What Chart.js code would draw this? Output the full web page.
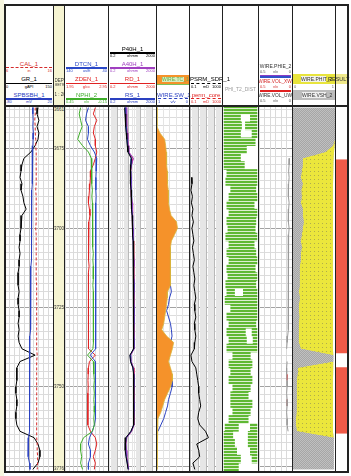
<!DOCTYPE html>
<html><head><meta charset="utf-8">
<script src="https://cdn.jsdelivr.net/npm/chart.js@4.4.1/dist/chart.umd.min.js"></script>
<style>
body{margin:0;width:351px;height:476px;position:relative;overflow:hidden;background:#fff;font-family:"Liberation Sans",Arial,sans-serif}
.a{position:absolute}
.lab{position:absolute;font-size:6px;line-height:6px;text-align:center;white-space:nowrap}
.sc{position:absolute;font-size:4px;line-height:4px;white-space:nowrap}
canvas{position:absolute}
</style></head><body>
<script>
// ================= DATA =================
const TOP = 3661.5, BASE = 3776.5;
const DEPTH_LABELS = [3661.5, 3675, 3700, 3725, 3750, 3776.5];
const DEPTH = [3662,3664,3666,3668,3670,3672,3674,3676,3678,3680,
 3682,3684,3686,3688,3690,3692,3694,3696,3698,3700,
 3702,3704,3706,3708,3710,3712,3714,3716,3718,3720,
 3722,3724,3726,3728,3730,3732,3734,3736,3738,3740,
 3742,3744,3746,3748,3750,3752,3754,3756,3758,3760,
 3762,3764,3766,3768,3770,3772,3774,3776];
const GR = [103,100,106,100,106,103,94,81,59,53,
 50,47,53,50,56,59,66,53,50,50,
 47,47,44,47,44,44,41,41,41,44,
 41,41,44,44,41,44,41,44,53,94,
 47,37,37,37,34,34,37,37,34,34,
 37,47,91,103,109,109,103,87];
const CAL = [12.3,12.3,12.2,12.3,12.3,12.4,12.4,12.5,12.5,12.5,
 12.5,12.5,12.5,12.4,12.5,12.5,12.5,12.5,12.5,12.4,
 12.5,12.5,12.5,12.5,12.5,12.5,12.5,12.5,12.6,12.6,
 12.6,12.6,12.6,12.6,12.6,12.6,12.6,12.6,12.6,12.7,
 12.6,12.6,12.6,12.6,12.6,12.6,12.6,12.6,12.6,12.6,
 12.6,12.6,12.6,12.7,12.7,12.8,12.8,12.7];
const SPBSBH = [-22,-22,-21.5,-22,-21,-21.5,-22,-22.5,-23,-23,
 -23,-23.5,-23.5,-24,-24,-24,-24,-24.5,-24.5,-25,
 -25,-25,-25.5,-25.5,-25.5,-26,-26,-26,-26,-26.5,
 -26.5,-27,-27,-27,-27.5,-27.5,-28,-28,-28,-28,
 -28,-28.5,-28.5,-28.5,-29,-29,-29,-29.5,-29.5,-30,
 -30,-30,-31,-32,-32,-31,-29,-28];
const DTCN = [85.5,90,92.3,85.5,85.5,87.7,80.9,71.8,66.1,67.3,
 67.5,68,68.4,68,67.5,68,68.5,69,68.4,68,
 68.5,69,69.5,69,68.5,69,69.5,69,68.4,68,
 68.5,69,69.5,69,68.5,68,68.5,69,69.5,80.9,
 69.5,68.4,68.4,69,69.5,69,68.4,69,69.5,70,
 71.8,76.4,83.2,85.5,80.9,80.9,85.5,85.5];
const ZDEN = [2.655,2.609,2.689,2.632,2.609,2.655,2.655,2.689,2.655,2.609,
 2.541,2.541,2.53,2.518,2.507,2.495,2.518,2.53,2.507,2.495,
 2.5,2.49,2.505,2.495,2.5,2.51,2.495,2.49,2.5,2.505,
 2.495,2.49,2.5,2.495,2.49,2.5,2.495,2.49,2.5,2.655,
 2.518,2.495,2.49,2.484,2.49,2.484,2.48,2.484,2.478,2.484,
 2.48,2.541,2.655,2.689,2.655,2.609,2.655,2.632];
const NPHI = [0.232,0.252,0.232,0.211,0.245,0.273,0.205,0.123,0.082,0.075,
 0.082,0.075,0.075,0.068,0.075,0.068,0.068,0.068,0.061,0.068,
 0.061,0.061,0.061,0.055,0.061,0.055,0.055,0.055,0.061,0.055,
 0.055,0.048,0.055,0.055,0.048,0.055,0.055,0.055,0.061,0.136,
 0.055,0.048,0.048,0.041,0.048,0.041,0.048,0.041,0.041,0.048,
 0.041,0.068,0.191,0.232,0.232,0.218,0.232,0.205];
const RD = [5.2,5.7,6.3,6.3,7.0,7.7,8.4,9.3,22,16.5,
 13.6,15,15,16.5,16.5,18.2,18.2,20,20,22,
 22,24,24,24,26.7,26.7,25,26.7,28,26.7,
 25,26.7,28,26.7,26.7,25,26.7,28,26.7,13.6,
 15,24,26.7,28,26.7,25,26.7,28,26.7,25,
 26.7,16.5,6.3,5.2,5.7,6.3,7.7,9.3];
const A40H = [5.6,6.0,6.6,6.8,7.3,8.0,8.8,9.8,24,17,
 14,15.5,15.5,17,17,18.5,19,20.5,21,22.5,
 23,24.5,25,25,27,27,25.5,27,28.5,27,
 25.5,27,28.5,27,27,25.5,27,28.5,27,14,
 15.5,24.5,27,28.5,27,25.5,27,28.5,27,25.5,
 27,17,6.6,5.5,6.0,6.6,8.0,9.6];
const RS = [4.6,4.9,5.5,5.6,6.2,6.9,7.6,8.6,17,15,
 13,14,14.5,15.5,16,17,17.5,19,19.5,21,
 21.5,23,23,23.5,25,25.5,24,25.5,27,25.5,
 24,25.5,27,25.5,25.5,24,25.5,27,25.5,12.5,
 14,22,25.5,27,25.5,24,25.5,27,25.5,24,
 25.5,15,5.8,4.8,5.2,5.9,7.2,8.8];
const P40H = [4.3,4.6,5.2,5.3,5.8,6.5,7.2,8.2,16,14.5,
 12.5,13.5,14,15,15.5,16.5,17,18.5,19,20.5,
 21,22.5,22.5,23,24.5,25,23.5,25,26.5,25,
 23.5,25,26.5,25,25,23.5,25,26.5,25,12,
 13.5,21.5,25,26.5,25,23.5,25,26.5,25,23.5,
 25,14.5,5.5,4.6,5.0,5.6,7.0,8.5];
const WIRE_TC = [0,0,0,0,0.09,0.24,0.27,0.29,0.30,0.30,
 0.32,0.33,0.33,0.35,0.36,0.36,0.39,0.44,0.61,0.64,
 0.55,0.45,0.42,0.42,0.42,0.42,0.42,0.42,0.42,0.33,
 0.32,0.30,0.27,0.24,0.21,0.15,0.30,0.52,0.48,0.42,
 0.36,0.42,0.48,0.48,0.42,0.33,0.24,0.18,0.12,0.03,
 0,0,0,0,0,0,0,0];
const WIRE_SW = [null,null,null,null,null,null,null,null,null,0.94,
 0.70,0.91,0.82,0.92,0.88,0.95,0.97,0.88,0.76,0.70,
 0.67,0.64,0.62,0.58,0.61,0.64,0.58,0.64,0.58,0.55,
 0.61,0.64,0.70,0.64,0.58,0.55,0.53,0.58,0.76,0.94,
 0.94,0.79,0.58,0.53,0.53,0.58,0.64,0.67,0.73,0.79,
 0.88,0.97,null,null,null,null,null,null];
const PSRM_SDR = [null,null,null,null,null,null,null,null,null,null,
 null,0.152,0.175,0.132,0.20,0.152,0.23,0.175,0.266,0.175,
 0.23,0.305,0.20,0.266,0.35,0.23,0.305,0.40,0.305,0.40,
 0.53,0.35,0.40,0.53,0.35,0.40,0.53,0.40,0.35,0.132,
 0.175,0.53,0.70,0.93,1.23,1.23,1.63,2.15,1.23,0.93,
 1.63,8.7,20,0.70,1.23,1.63,0.23,0.40];
const VOL_UWAT = [null,null,null,null,null,null,null,null,0.037,0.044,
 0.051,0.044,0.051,0.059,0.051,0.044,0.051,0.059,0.051,0.044,
 0.051,0.059,0.051,0.051,0.059,0.051,0.059,0.051,0.059,0.051,
 0.059,0.059,0.051,0.059,0.051,0.059,0.066,0.074,0.081,null,
 0.074,0.081,0.081,0.074,0.074,0.081,0.074,0.074,0.081,0.074,
 0.074,0.059,null,null,null,null,null,null];
const VOL_XWAT = [null,null,null,null,null,null,null,null,null,null,
 null,null,null,null,null,null,null,null,null,null,
 null,null,null,null,null,null,null,null,null,null,
 null,null,null,null,null,null,null,null,null,null,
 null,null,0.074,0.074,null,null,0.074,0.074,null,null,
 null,null,null,null,null,null,null,null];
const VSH = [1,1,1,1,1,1,0.95,0.77,0.233,0.233,
 0.209,0.186,0.233,0.198,0.209,0.186,0.233,0.233,0.256,0.233,
 0.209,0.186,0.209,0.186,0.186,0.163,0.163,0.151,0.163,0.14,
 0.163,0.14,0.14,0.151,0.14,0.128,0.14,0.14,0.186,0.96,
 0.96,0.116,0.105,0.093,0.093,0.081,0.081,0.093,0.081,0.07,
 0.07,0.093,0.97,0.97,0.97,0.97,0.97,0.97];
const SAND_EDGE = [1,1,1,1,1,1,0.99,0.977,0.965,0.953,
 0.953,0.953,0.953,0.95,0.95,0.953,0.953,0.95,0.953,0.953,
 0.95,0.95,0.953,0.953,0.95,0.95,0.953,0.953,0.95,0.95,
 0.953,0.953,0.95,0.95,0.953,0.953,0.95,0.95,0.95,0.96,
 0.96,0.953,0.953,0.95,0.95,0.953,0.953,0.95,0.95,0.953,
 0.953,0.95,0.97,0.97,0.97,0.97,0.97,0.97];
const RESULT_TOP = [3678.3, 3743.8];
const RESULT_BASE = [3739.4, 3764.8];
// PHI_T2_DIST envelope (two segments per row)
const T2_DEPTH = [3662.75,3665.25,3667.75,3670.25,3672.75,3675.25,3677.75,3680.25,3682.75,3685.25,
 3687.75,3690.25,3692.75,3695.25,3697.75,3700.25,3702.75,3705.25,3707.75,3710.25,
 3712.75,3715.25,3717.75,3720.25,3722.75,3725.25,3727.75,3730.25,3732.75,3735.25,
 3737.75,3740.25,3742.75,3745.25,3747.75,3750.25,3752.75,3755.25,3757.75,3760.25,
 3762.75,3765.25,3767.75,3770.25,3772.75,3775.25];
const T2_A_LO = [3,3,3,3,3,3,3,3,11,8, 22,17,11,17,11,14,8,17,11,17, 11,14,8,11,6,22,11,17,11,17, 11,28,17,22,17,28,22,22,28,17, 6,3,3,3,3,3];
const T2_A_HI = [97,50,53,50,92,67,50,61,97,97, 94,97,89,97,94,92,97,89,94,97, 92,97,94,33,97,97,97,94,64,67, 97,78,83,78,83,78,72,83,78,72, 44,28,33,39,50,44];
const T2_B_LO = [null,78,64,83,null,null,null,null,null,null, null,null,null,null,null,null,null,null,null,null, null,null,null,58,null,null,null,null,83,86, null,null,null,null,null,null,null,null,null,null, 78,72,72,78,83,null];
const T2_B_HI = [null,97,97,97,null,null,null,null,null,null, null,null,null,null,null,null,null,null,null,null, null,null,null,97,null,null,null,null,97,97, null,null,null,null,null,null,null,null,null,null, 97,97,97,97,97,null];

// ================= LAYOUT =================
const PT = 106, PB = 471;
const B = [4,53,64,108,156,189,222,258,292,335,347];

function el(cls, css, text){const d=document.createElement('div');d.className=cls;d.style.cssText=css;if(text!=null)d.textContent=text;document.body.appendChild(d);return d;}
function rect(x,y,w,h,bg){return el('a',`left:${x}px;top:${y}px;width:${w}px;height:${h}px;background:${bg}`);}
function pat(w,h,draw){const c=document.createElement('canvas');c.width=w;c.height=h;const g=c.getContext('2d');draw(g);return g.createPattern(c,'repeat');}
const GREEN = pat(1,3,g=>{g.fillStyle='#5fb833';g.fillRect(0,0,1,2);g.fillStyle='#dbeecf';g.fillRect(0,2,1,1);});
const SAND = pat(4,4,g=>{g.fillStyle='#ebe63c';g.fillRect(0,0,4,4);g.fillStyle='#b0ad4a';g.fillRect(1,1,1,1);});
const SHALE = pat(2,2,g=>{g.fillStyle='#c0c0c0';g.fillRect(0,0,2,2);g.fillStyle='#a6a6a6';g.fillRect(0,0,1,1);g.fillRect(1,1,1,1);});

const lin = (a,b,n)=>Array.from({length:n+1},(_,i)=>a+(b-a)*i/n);
const logTicks=(a,b)=>{const t=[];for(let e=Math.floor(Math.log10(a));e<=Math.ceil(Math.log10(b));e++)for(let m=1;m<10;m++){const v=Number((m*Math.pow(10,e)).toPrecision(6));if(v>=a*0.999&&v<=b*1.001)t.push(v);}return t;};
const isDec=v=>Math.abs(Math.log10(v)-Math.round(Math.log10(v)))<1e-6;
const GRID_D=[];for(let d=3662.5; d<BASE; d+=2.5) GRID_D.push(d);

function Y(grid, extra){
  return Object.assign({type:'linear',reverse:true,min:TOP,max:BASE,display:true,offset:false,
    afterBuildTicks:s=>{s.ticks=GRID_D.map(v=>({value:v}));},
    ticks:{display:false},border:{display:false},
    grid:{display:grid,drawTicks:false,offset:false,lineWidth:1,
      color:c=>(c.tick&&Math.abs(c.tick.value%25)<1e-6)?'#a2a2a2':'#dcdcdc'}}, extra||{});
}
function X(type,min,max,ticks,opt){
  opt=opt||{};
  return {type,min,max,reverse:!!opt.reverse,display:!opt.hidden,position:'top',offset:false,
    afterBuildTicks:s=>{if(ticks)s.ticks=ticks.map(v=>({value:v}));},
    ticks:{display:false},border:{display:false},
    grid:{display:!!ticks,drawTicks:false,offset:false,lineWidth:1,
      color:c=>(opt.major&&c.tick&&opt.major(c.tick.value))?'#b8b8b8':(opt.minor||'#dadada')}};
}
const XH=(type,min,max,opt)=>Object.assign(X(type,min,max,null,opt),{display:false});
const pts=arr=>DEPTH.map((d,i)=>({x:arr[i],y:d}));
function ds(arr,axis,color,extra){return Object.assign({data:pts(arr),xAxisID:axis,yAxisID:'y',borderColor:color,borderWidth:1,pointRadius:0,fill:false},extra||{});}

function mk(x0,x1,type,datasets,scales,bg){
  const w=x1-x0,h=PB-PT;
  const c=document.createElement('canvas');c.width=w;c.height=h;
  c.style.cssText=`left:${x0}px;top:${PT}px;width:${w}px;height:${h}px;${bg?'background:'+bg:''}`;
  document.body.appendChild(c);
  return new Chart(c,{type,data:{datasets},options:{indexAxis:'y',responsive:false,animation:false,events:[],
    layout:{padding:0},plugins:{legend:{display:false},tooltip:{enabled:false}},
    elements:{point:{radius:0},line:{tension:0,borderWidth:1}},scales}});
}

// background strips
rect(0,0,4,476,'#f7f6df');
rect(54,4,10,467,'#f6f4d2');

// ---- Track 1 ----
mk(5,53,'line',[
  ds(CAL,'xCal','#d42a2a',{borderDash:[3,2]}),
  ds(SPBSBH,'xSp','#2a40c0'),
  ds(GR,'x','#000000')
],{y:Y(true),x:X('linear',0,150,lin(0,150,10),{major:v=>v===75}),xCal:XH('linear',6,16),xSp:XH('linear',-80,20)});

// ---- Depth track ----
const dch = mk(54,64,'line',[],{
  y:Object.assign(Y(true),{afterBuildTicks:s=>{s.ticks=DEPTH_LABELS.map(v=>({value:v}));},
     grid:{display:true,drawTicks:false,color:'#8c8c8c',lineWidth:1}}),
  x:XH('linear',0,1)
});
DEPTH_LABELS.forEach(v=>{
  let p=dch.scales.y.getPixelForValue(v)+PT-2.5;
  p=Math.max(PT+0.5,Math.min(PB-5.5,p));
  el('a',`left:54px;width:10px;top:${p}px;font-size:4.5px;line-height:5px;text-align:center;background:#f6f4d2;color:#333;white-space:nowrap;overflow:hidden`,String(v));
});

// ---- Track 2 ----
mk(65,108,'line',[
  ds(NPHI,'xN','#3fae2a'),
  ds(DTCN,'x','#2a48c8'),
  ds(ZDEN,'xD','#e02222')
],{y:Y(true),x:X('linear',40,140,lin(40,140,10),{reverse:true,major:v=>v===90}),xD:XH('linear',1.95,2.95),xN:XH('linear',-0.15,0.45,{reverse:true})});

// ---- Track 3 ----
mk(109,156,'line',[
  ds(P40H,'x','#000000'),
  ds(RS,'x','#2a40c0'),
  ds(A40H,'x','#a040c0'),
  ds(RD,'x','#e0204a')
],{y:Y(true),x:X('logarithmic',0.2,2000,logTicks(0.2,2000),{major:isDec,minor:'#e6e6e6'})});

// ---- Track 4 ----
mk(157,189,'line',[
  ds(WIRE_TC,'x','#d9b43a',{fill:'start',backgroundColor:'#f5922a',borderWidth:0.8}),
  ds(WIRE_SW,'xSw','#2a40c0')
],{y:Y(true),x:X('linear',0,1,lin(0,1,5),{minor:'#e4e4e4'}),xSw:XH('linear',0,1,{reverse:true})});

// ---- Track 5 ----
mk(190,222,'line',[
  ds(PSRM_SDR,'x','#000000')
],{y:Y(true),x:X('logarithmic',0.1,1000,logTicks(0.1,1000),{major:isDec,minor:'#e6e6e6'})});

// ---- Track 6 (PHI_T2_DIST) ----
const t2a=T2_DEPTH.map((d,i)=>({x:[T2_A_LO[i],T2_A_HI[i]],y:d}));
const t2b=T2_DEPTH.map((d,i)=>({x:[T2_B_LO[i],T2_B_HI[i]],y:d})).filter(p=>p.x[0]!=null);
mk(223,258,'bar',[
  {data:t2a,xAxisID:'x',yAxisID:'y',backgroundColor:GREEN,borderWidth:0,grouped:false,barPercentage:1,categoryPercentage:1},
  {data:t2b,xAxisID:'x',yAxisID:'y',backgroundColor:GREEN,borderWidth:0,grouped:false,barPercentage:1,categoryPercentage:1}
],{y:Y(false),x:X('linear',0,100,null)});

// ---- Track 7 ----
mk(259,292,'line',[
  ds(VOL_UWAT,'x','#9a9a9a'),
  ds(VOL_XWAT,'x','#d42a2a',{borderWidth:1.2})
],{y:Y(true),x:X('linear',0,0.5,lin(0,0.5,6),{reverse:true})});

// ---- Track 8 ----
mk(293,335,'line',[
  ds(VSH,'x','rgba(0,0,0,0)',{fill:'start',backgroundColor:SHALE,borderWidth:0}),
  ds(SAND_EDGE,'x','rgba(0,0,0,0)',{fill:'-1',backgroundColor:SAND,borderWidth:0}),
  ds(SAND_EDGE,'x','rgba(0,0,0,0)',{fill:'end',backgroundColor:SHALE,borderWidth:0})
],{y:Y(false),x:X('linear',0,1,null)});

// ---- Track 9 ----
const resPts=[];RESULT_TOP.forEach((t,i)=>{resPts.push({x:0,y:t},{x:1,y:t},{x:1,y:RESULT_BASE[i]},{x:0,y:RESULT_BASE[i]});});
mk(336,347,'line',[
  {data:resPts,xAxisID:'x',yAxisID:'y',borderWidth:0,borderColor:'rgba(0,0,0,0)',fill:'start',backgroundColor:'#ef5a48',pointRadius:0}
],{y:Y(false),x:X('linear',0,1,null)});

// ================= HEADER =================
function hdr(x0,x1,yl,name,color,lo,unit,hi,dash,fs){
  el('lab',`left:${x0}px;width:${x1-x0}px;top:${yl-7.5}px;color:${color};${fs?'font-size:'+fs+'px;':''}`,name);
  if(dash) el('a',`left:${x0+1}px;top:${yl-0.75}px;width:${x1-x0-2}px;height:0;border-top:1.5px dashed ${color}`);
  else rect(x0+1,yl-0.75,x1-x0-2,1.5,color);
  el('sc',`left:${x0+1}px;top:${yl+1.2}px;color:${color}`,lo);
  el('sc',`left:${x0}px;width:${x1-x0}px;text-align:center;top:${yl+1.2}px;color:${color}`,unit);
  el('sc',`left:${x0}px;width:${x1-x0-1}px;text-align:right;top:${yl+1.2}px;color:${color}`,hi);
}
hdr(5,53,68,'CAL_1','#d42a2a','6','in','16',true);
hdr(5,53,83.5,'GR_1','#000','0','gAPI','150');
hdr(5,53,99,'SPBSBH_1','#2a40c0','-80','mV','20');
el('a','left:54.5px;top:78px;width:9.5px;overflow:hidden;font-size:4.5px;line-height:5px;white-space:nowrap;color:#333','DEPTH');
el('a','left:54.5px;top:83px;width:9.5px;overflow:hidden;font-size:3.5px;line-height:4px;white-space:nowrap;color:#333','METRES');
el('a','left:54.5px;top:92px;width:9.5px;overflow:hidden;font-size:4.5px;line-height:5px;white-space:nowrap;color:#333','1 : 200');
hdr(65,108,68,'DTCN_1','#2a48c8','140','us/ft','40');
hdr(65,108,83.5,'ZDEN_1','#e02222','1.95','g/cc','2.95');
hdr(65,108,99,'NPHI_2','#3fae2a','0.45','v/v','-0.15');
hdr(109,156,53,'P40H_1','#000','0.2','ohmm','2000');
hdr(109,156,68,'A40H_1','#a040c0','0.2','ohmm','2000');
hdr(109,156,83.5,'RD_1','#e02222','0.2','ohmm','2000');
hdr(109,156,99,'RS_1','#2a40c0','0.2','ohmm','2000');
rect(157,75,32,8.5,'#f5922a');
el('a','left:162px;top:76.5px;width:22px;height:5.5px;background:#d6edc0;color:#66ad45;font-size:5px;line-height:5.5px;text-align:center;white-space:nowrap','WIRE.TC_1');
rect(157,84,32,0.8,'#7cc05a');
hdr(157,189,99,'WIRE.SW_1','#2a40c0','1','v/v','0',5.5);
hdr(190,222,83.5,'PSRM_SDR_1','#000','0.1','mD','1000',5.5);
hdr(190,222,99,'perm_core','#e02222','0.1','mD','1000',5.5);
el('lab','left:223px;width:35px;top:86px;font-size:5px;color:#9c9c9c','PHI_T2_DIST');
// track 7
el('lab','left:259px;width:33px;top:63px;font-size:5px;color:#333','WIRE.PHIE_2');
el('sc','left:260px;top:69.5px;color:#555','0.5');
el('sc','left:259px;width:33px;text-align:center;top:69.5px;color:#555','v/v');
el('sc','left:259px;width:32px;text-align:right;top:69.5px;color:#555','0');
rect(260,74.8,31,1.3,'#8a3cc4');
rect(260,76.3,31,1.3,'#3050c8');
el('lab','left:258px;width:35px;top:78.5px;font-size:4.8px;color:#d42a2a','WIRE.VOL_XWAT');
el('sc','left:260px;top:84.5px;color:#d42a2a','0.5');
el('sc','left:259px;width:33px;text-align:center;top:84.5px;color:#d42a2a','v/v');
el('sc','left:259px;width:32px;text-align:right;top:84.5px;color:#d42a2a','0');
rect(260,89.8,31,1.8,'#e02222');
el('lab','left:258px;width:35px;top:93px;font-size:4.8px;color:#333','WIRE.VOL_UWAT');
el('sc','left:260px;top:99px;color:#555','0.5');
el('sc','left:259px;width:33px;text-align:center;top:99px;color:#555','v/v');
el('sc','left:259px;width:32px;text-align:right;top:99px;color:#555','0');
// track 8 / 9
rect(293,74,42,10,'#e8e43c');
el('a','left:301px;top:76px;width:25px;height:6px;background:#f2f2ea;color:#333;font-size:5px;line-height:6px;text-align:center;white-space:nowrap','WIRE.PHIT_2');
el('sc','left:294px;top:85px;color:#666','0');
el('sc','left:293px;width:41px;text-align:right;top:85px;color:#666','1');
rect(293,90,42,10,'#bcbcbc');
el('a','left:302px;top:92px;width:24px;height:6px;background:#efefef;color:#333;font-size:5px;line-height:6px;text-align:center;white-space:nowrap','WIRE.VSH_2');
rect(336,74,11,10,'#efe98a');
el('a','left:328px;top:76px;font-size:5.5px;line-height:6px;white-space:nowrap;color:#333','RESULT');

// ================= FRAME =================
rect(4,4,344,1.5,'#222');
rect(4,104.5,344,2,'#222');
rect(4,471,344,2,'#222');
B.forEach((x,i)=>rect(x,4,(i===0||i===B.length-1)?1.6:1,469,'#222'));
</script>
</body></html>
